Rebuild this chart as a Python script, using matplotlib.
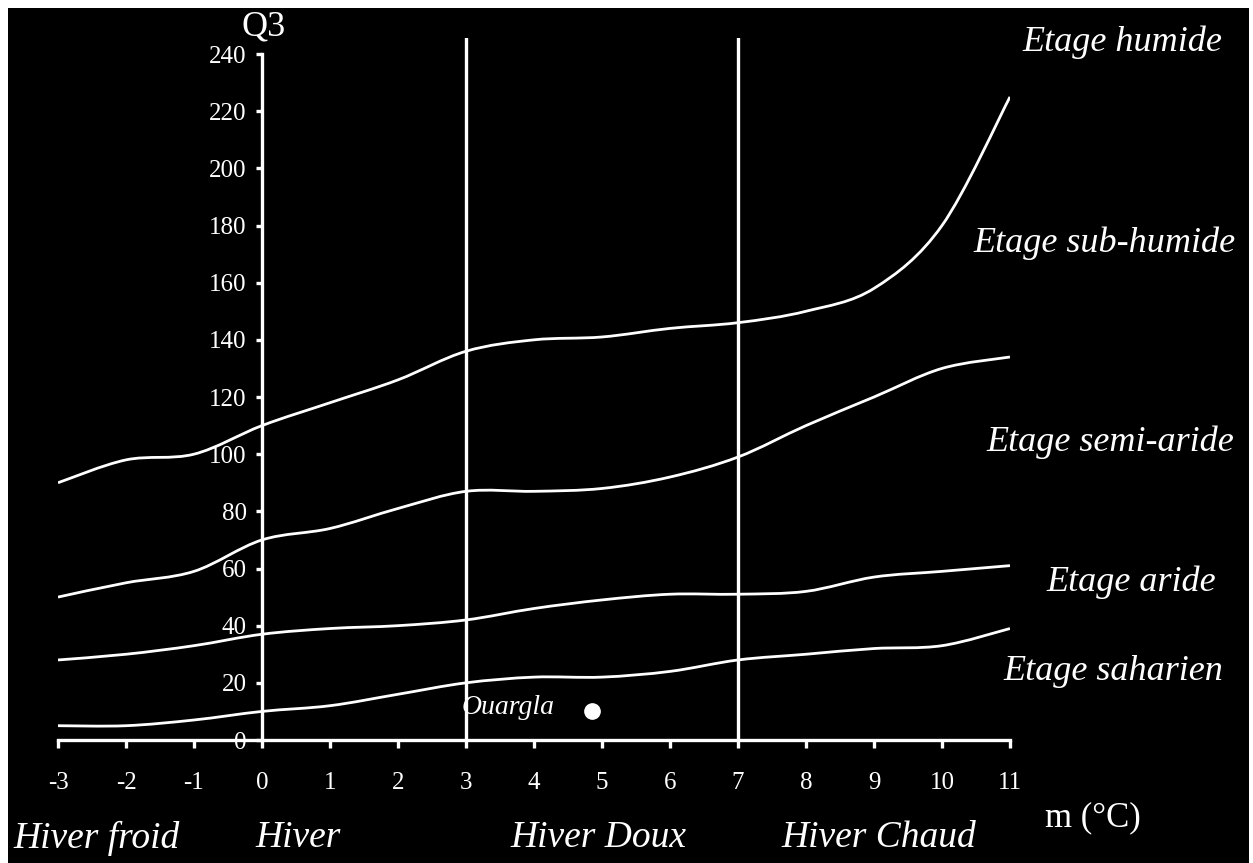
import numpy as np
import matplotlib
matplotlib.use("Agg")
import matplotlib.pyplot as plt
from matplotlib.path import Path
from matplotlib.patches import PathPatch, Rectangle

m_vals = [-3, -2, -1, 0, 1, 2, 3, 4, 5, 6, 7, 8, 9, 10, 11]
limite_humide = [90, 98, 100, 110, 118, 126, 136, 140, 141, 144, 146, 150, 158, 180, 225]
limite_subhumide = [50, 55, 59, 70, 74, 81, 87, 87, 88, 92, 99, 110, 120, 130, 134]
limite_semiaride = [28, 30, 33, 37, 39, 40, 42, 46, 49, 51, 51, 52, 57, 59, 61]
limite_aride = [5, 5, 7, 10, 12, 16, 20, 22, 22, 24, 28, 30, 32, 33, 39]
courbes = [limite_humide, limite_subhumide, limite_semiaride, limite_aride]

station = "Ouargla"
station_m = 4.85
station_q3 = 10

x_ticks = list(range(-3, 12))
y_ticks = list(range(0, 241, 20))
limites_hiver = [3, 7]

etages = ["Etage humide", "Etage sub-humide", "Etage semi-aride", "Etage aride", "Etage saharien"]
hivers = ["Hiver froid", "Hiver", "Hiver Doux", "Hiver Chaud"]

W, H = 1253, 863
SERIF = "Liberation Serif"


def smooth_path(xs, ys):
    # courbe lissee (type Excel) : Catmull-Rom -> Bezier
    pts = np.column_stack([xs, ys]).astype(float)
    n = len(pts)
    verts = [pts[0]]
    codes = [Path.MOVETO]
    for i in range(n - 1):
        p0 = pts[max(i - 1, 0)]
        p1 = pts[i]
        p2 = pts[i + 1]
        p3 = pts[min(i + 2, n - 1)]
        c1 = p1 + (p2 - p0) / 6.0
        c2 = p2 - (p3 - p1) / 6.0
        verts += [c1, c2, p2]
        codes += [Path.CURVE4] * 3
    return Path(verts, codes)


fig = plt.figure(figsize=(W / 100, H / 100), dpi=100, facecolor="white")
# fond noir avec petite bordure blanche en haut/gauche
fig.patches.append(Rectangle((8 / W, 0), 1 - 12 / W, 1 - 8 / H, transform=fig.transFigure,
                             facecolor="black", edgecolor="none", zorder=-10))

ax = fig.add_axes([58 / W, (H - 740) / H, 952 / W, 702 / H])
ax.set_zorder(5)
ax.set_facecolor("none")
ax.set_xlim(-3, 11)
ax.set_ylim(0, 245.6)

lw = 2.4
for c in courbes:
    ax.add_patch(PathPatch(smooth_path(m_vals, c), facecolor="none", edgecolor="white",
                           lw=2.0, zorder=3))

for xv in limites_hiver:
    ax.axvline(xv, ymin=0, ymax=1, color="white", lw=lw, zorder=2)

for s in ["top", "right"]:
    ax.spines[s].set_visible(False)
ax.spines["left"].set_position(("data", 0))
ax.spines["bottom"].set_position(("data", 0))
ax.spines["left"].set_bounds(0, 240)
ax.spines["bottom"].set_bounds(-3, 11)
for s in ["left", "bottom"]:
    ax.spines[s].set_color("white")
    ax.spines[s].set_linewidth(lw)

ax.set_xticks(x_ticks)
ax.set_xticklabels([str(v) for v in x_ticks])
ax.set_yticks(y_ticks)
ax.set_yticklabels([str(v) for v in y_ticks])
ax.tick_params(axis="x", direction="out", length=6, width=lw, color="white",
               labelcolor="white", labelsize=18, pad=17)
ax.tick_params(axis="y", direction="out", length=4, width=lw, color="white",
               labelcolor="white", labelsize=18, pad=7)
for lab in ax.get_xticklabels() + ax.get_yticklabels():
    lab.set_fontfamily(SERIF)

ax.plot([station_m], [station_q3], "o", color="white", ms=11, zorder=4)
ax.text(station_m - 0.55, station_q3 + 1.5, station, color="white", fontsize=20,
        fontstyle="italic", family=SERIF, ha="right", va="center")


def ftext(x, y, s, size, italic=True, ha="left"):
    fig.text(x / W, 1 - y / H, s, color="white", fontsize=size, family=SERIF,
             fontstyle="italic" if italic else "normal", ha=ha, va="center")


ftext(264, 27, "Q3", 26, italic=False, ha="center")
ftext(1093, 818, "m (°C)", 25, italic=False, ha="center")

pos_etages = [(1122, 42), (1104, 243), (1110, 442), (1131, 582), (1113, 671)]
for s, (x, y) in zip(etages, pos_etages):
    ftext(x, y, s, 26, ha="center")

pos_hivers = [(97, 838), (298, 838), (598, 838), (879, 838)]
for s, (x, y) in zip(hivers, pos_hivers):
    ftext(x, y, s, 27, ha="center")

fig.savefig("out.png", dpi=100, facecolor=fig.get_facecolor())
